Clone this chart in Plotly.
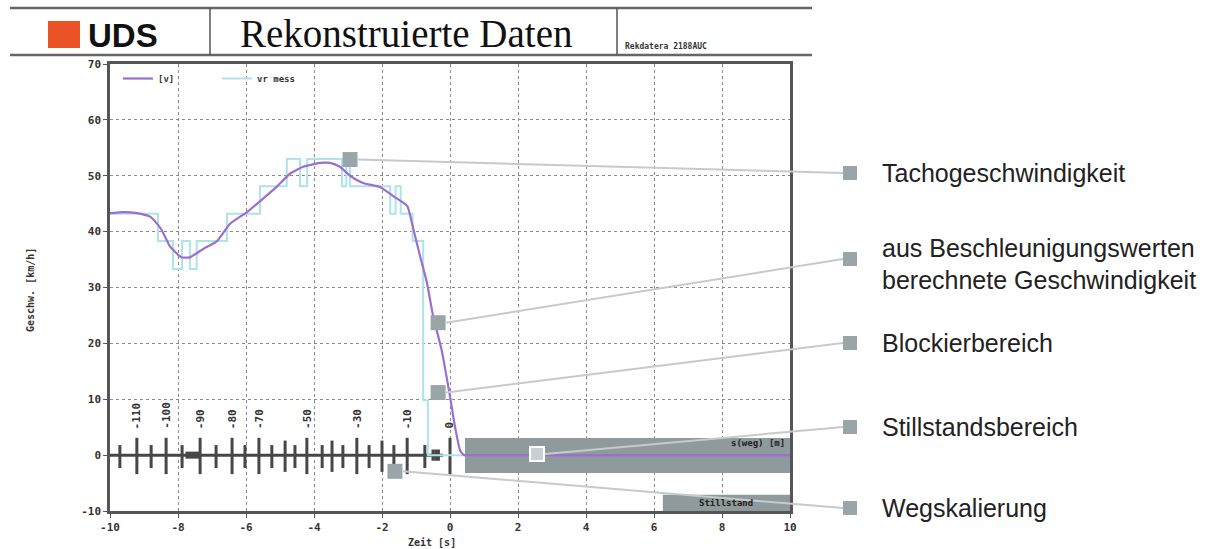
import plotly.graph_objects as go

# ---------------- data ----------------
# reconstructed speed [v] (km/h) over time (s)
v_t = [-10, -9.6, -9.2, -8.8, -8.5, -8.24, -7.9, -7.65, -7.26, -6.85, -6.47, -5.97, -5.5, -5.1,
       -4.7, -4.32, -3.82, -3.53, -3.24, -2.94, -2.56, -2.06, -1.68, -1.26, -1.08, -0.88, -0.68,
       -0.5, -0.25, 0.0, 0.15, 0.3, 0.42, 0.6, 10]
v_v = [43.3, 43.5, 43.3, 42.6, 40.5, 37.4, 35.4, 35.4, 36.9, 38.3, 41.4, 43.5, 45.9, 48.0,
       50.4, 51.6, 52.3, 52.3, 51.6, 50.0, 48.7, 48.0, 46.4, 44.6, 40.5, 35.6, 30.9,
       25.0, 18.9, 10.5, 5.0, 0.8, 0.0, 0.0, 0.0]

# measured tacho speed "vr mess" (step function)
vr_t = [-10, -8.59, -8.15, -7.88, -7.65, -7.45, -6.56, -5.59, -4.80, -4.41, -4.20, -3.18,
        -3.05, -2.94, -1.76, -1.60, -1.45, -1.10, -0.79, -0.65, 0.45]
vr_v = [43.2, 38.3, 33.3, 38.3, 33.3, 38.3, 43.2, 48.1, 53.0, 48.1, 53.0, 48.1,
        53.0, 48.1, 43.2, 48.1, 43.2, 38.3, 9.8, 0.0, 0.0]

# distance scale: distance to standstill (m) and the time it is reached (s)
weg_m = [-115, -110, -105, -100, -95, -90, -85, -80, -75, -70, -65, -60, -55, -50,
         -45, -40, -35, -30, -25, -20, -15, -10, -5, 0]
weg_t = [-9.71, -9.21, -8.79, -8.35, -7.88, -7.35, -6.88, -6.41, -6.03, -5.62, -5.24, -4.85,
         -4.56, -4.21, -3.76, -3.47, -3.15, -2.74, -2.38, -2.0, -1.65, -1.26, -0.74, 0.0]
weg_labels = [-110, -100, -90, -80, -70, -50, -30, -10, 0]

# callout points (time, speed) and texts
call_t = [-2.94, -0.35, -0.35, 2.56, -1.62]
call_v = [52.9, 23.7, 11.2, 0.2, -2.9]
call_text = ["Tachogeschwindigkeit",
             "aus Beschleunigungswerten<br>berechnete Geschwindigkeit",
             "Blockierbereich", "Stillstandsbereich", "Wegskalierung"]

# standstill band and box
band_t = [0.44, 10]
band_v = [-3.2, 3.05]
still_t = [6.26, 10]
still_v = [-10, -7.1]

x_ticks = [-10, -8, -6, -4, -2, 0, 2, 4, 6, 8, 10]
y_ticks = [-10, 0, 10, 20, 30, 40, 50, 60, 70]

# ---------------- layout geometry ----------------
W, H = 1216, 549
L, R, T, B = 110, 426, 64, 38
PW, PH = W - L - R, H - T - B
XR, YR = [-10, 10], [-10, 70]


def pp(px, py):
    return (px - L) / PW, (H - B - py) / PH


def dp(t, v):
    return (t - XR[0]) / (XR[1] - XR[0]), (v - YR[0]) / (YR[1] - YR[0])


MONO = "DejaVu Sans Mono"
GREY_SQ = "#9aa5a8"
LEADER = "#c6cacb"
BAND = "#8e9a9c"
DARK = "#474747"

fig = go.Figure()

# distance scale baseline
fig.add_trace(go.Scatter(x=[XR[0], -0.2], y=[0, 0], mode="lines",
                         line=dict(color=DARK, width=3), showlegend=False, hoverinfo="skip"))
fig.add_trace(go.Scatter(x=[weg_t[4] + 0.1, weg_t[5]], y=[0, 0], mode="lines",
                         line=dict(color=DARK, width=7), showlegend=False, hoverinfo="skip"))

# distance ticks
xs, ys = [], []
for m, t in zip(weg_m, weg_t):
    if m in weg_labels:
        top, bot = 3.1, -3.4
    elif m % 10 == 0:
        top, bot = 2.6, -3.0
    else:
        top, bot = 1.8, -2.3
    xs += [t, t, None]
    ys += [top, bot, None]
for t in [-0.5, -0.42, -0.34]:
    xs += [t, t, None]
    ys += [1.0, -1.0, None]
fig.add_trace(go.Scatter(x=xs, y=ys, mode="lines", line=dict(color=DARK, width=3),
                         showlegend=False, hoverinfo="skip"))

# curves
fig.add_trace(go.Scatter(x=vr_t, y=vr_v, mode="lines", name="vr mess",
                         line=dict(color="#aee3ea", width=2, shape="hv")))
fig.add_trace(go.Scatter(x=v_t, y=v_v, mode="lines", name="[v]",
                         line=dict(color="#9b6fcf", width=2.2, shape="spline", smoothing=0.5)))

# callout markers inside the plot
fig.add_trace(go.Scatter(x=[call_t[i] for i in (0, 1, 2, 4)], y=[call_v[i] for i in (0, 1, 2, 4)],
                         mode="markers", marker=dict(symbol="square", size=15, color=GREY_SQ),
                         showlegend=False, hoverinfo="skip", cliponaxis=False))
fig.add_trace(go.Scatter(x=[call_t[3]], y=[call_v[3]], mode="markers",
                         marker=dict(symbol="square", size=14, color="#c9d0d2",
                                     line=dict(color="white", width=2)),
                         showlegend=False, hoverinfo="skip"))

shapes = []
annotations = []

# standstill band and box
shapes.append(dict(type="rect", xref="x", yref="y", x0=band_t[0], x1=band_t[1],
                   y0=band_v[0], y1=band_v[1], fillcolor=BAND, line=dict(width=0),
                   layer="between"))
shapes.append(dict(type="rect", xref="x", yref="y", x0=still_t[0], x1=still_t[1],
                   y0=still_v[0], y1=still_v[1], fillcolor=BAND, line=dict(width=0),
                   layer="between"))
annotations.append(dict(xref="x", yref="y", x=9.9, y=2.2, text="s(weg) [m]", showarrow=False,
                        xanchor="right", font=dict(family=MONO, size=9, color="#222", weight="bold")))
annotations.append(dict(xref="x", yref="y", x=(still_t[0] + still_t[1]) / 2, y=-8.55,
                        text="Stillstand", showarrow=False,
                        font=dict(family=MONO, size=9, color="#222", weight="bold")))

# distance labels (rotated)
for m, t in zip(weg_m, weg_t):
    if m in weg_labels:
        annotations.append(dict(xref="x", yref="y", x=t, y=4.3, text=str(m), showarrow=False,
                                textangle=-90, yanchor="bottom", xanchor="center",
                                font=dict(family=MONO, size=11, color="#333", weight="bold")))

# callout labels on the right
LBL_FONT = dict(family="Liberation Sans", size=25, color="#222")
label_py = [173, 259, 343, 427, 508]
for i, (t, v) in enumerate(zip(call_t, call_v)):
    x0, y0 = dp(t, v)
    x0 += 8 / PW
    lx, ly = pp(843, label_py[i])
    shapes.append(dict(type="line", xref="paper", yref="paper", x0=x0, y0=y0, x1=lx, y1=ly,
                       line=dict(color=LEADER, width=2), layer="above"))
    sx0, sy0 = pp(843, label_py[i] - 7)
    sx1, sy1 = pp(857, label_py[i] + 7)
    shapes.append(dict(type="rect", xref="paper", yref="paper", x0=sx0, x1=sx1, y0=sy0, y1=sy1,
                       fillcolor=GREY_SQ, line=dict(width=0), layer="above"))
    tx, ty = pp(880, label_py[i])
    if "<br>" in call_text[i]:
        l1, l2 = call_text[i].split("<br>")
        for txt, py in ((l1, 248), (l2, 280)):
            tx2, ty2 = pp(880, py)
            annotations.append(dict(xref="paper", yref="paper", x=tx2, y=ty2, text=txt,
                                    showarrow=False, xanchor="left", yanchor="middle",
                                    font=LBL_FONT))
    else:
        annotations.append(dict(xref="paper", yref="paper", x=tx, y=ty, text=call_text[i],
                                showarrow=False, xanchor="left", yanchor="middle",
                                font=LBL_FONT))

# header
hx0, _ = pp(10, 0)
hx1, _ = pp(812, 0)
_, hyt = pp(0, 8)
_, hyb = pp(0, 55)
for y in (hyt, hyb):
    shapes.append(dict(type="line", xref="paper", yref="paper", x0=hx0, x1=hx1, y0=y, y1=y,
                       line=dict(color="#666", width=2.5)))
for px in (210, 617):
    sx, _ = pp(px, 0)
    shapes.append(dict(type="line", xref="paper", yref="paper", x0=sx, x1=sx, y0=hyb, y1=hyt,
                       line=dict(color="#555", width=1.5)))
ox0, oy0 = pp(48, 48)
ox1, oy1 = pp(80, 21)
shapes.append(dict(type="rect", xref="paper", yref="paper", x0=ox0, x1=ox1, y0=oy0, y1=oy1,
                   fillcolor="#ea5125", line=dict(width=0)))
ux, uy = pp(86, 36)
annotations.append(dict(xref="paper", yref="paper", x=ux, y=uy, text="<b>UDS</b>", showarrow=False,
                        xanchor="left", yanchor="middle",
                        font=dict(family="Liberation Sans", size=33, color="#111")))
rx, ry = pp(406, 33)
annotations.append(dict(xref="paper", yref="paper", x=rx, y=ry, text="Rekonstruierte Daten",
                        showarrow=False, xanchor="center", yanchor="middle",
                        font=dict(family="Liberation Serif", size=39, color="#111")))
kx, ky = pp(623, 46)
annotations.append(dict(xref="paper", yref="paper", x=kx, y=ky, text="Rekdatera 2188AUC",
                        showarrow=False, xanchor="left", yanchor="middle",
                        font=dict(family=MONO, size=8, color="#333", weight="bold")))

# axis titles
ax_, ay_ = pp(432, 542)
annotations.append(dict(xref="paper", yref="paper", x=ax_, y=ay_, text="Zeit [s]", showarrow=False,
                        xanchor="center", yanchor="middle",
                        font=dict(family=MONO, size=10, color="#333", weight="bold")))
bx_, by_ = pp(30, 290)
annotations.append(dict(xref="paper", yref="paper", x=bx_, y=by_, text="Geschw. [km/h]",
                        showarrow=False, textangle=-90, xanchor="center", yanchor="middle",
                        font=dict(family=MONO, size=10, color="#333", weight="bold")))

tickfont = dict(family=MONO, size=11, color="#333", weight="bold")
fig.update_layout(
    width=W, height=H,
    margin=dict(l=L, r=R, t=T, b=B, pad=0),
    paper_bgcolor="white", plot_bgcolor="white",
    shapes=shapes, annotations=annotations,
    legend=dict(orientation="h", x=pp(118, 0)[0], y=1.0, xanchor="left", yanchor="top",
                bgcolor="rgba(0,0,0,0)", entrywidth=54, entrywidthmode="pixels",
                font=dict(family=MONO, size=9, color="#333", weight="bold"),
                traceorder="reversed", itemwidth=30),
    xaxis=dict(range=XR, tickvals=x_ticks, ticktext=[str(v) for v in x_ticks],
               showgrid=True, gridcolor="#8a8a8a", griddash="dot", gridwidth=1,
               showline=True, mirror=True, linecolor="#555", linewidth=2.5,
               ticks="outside", ticklen=4, tickcolor="#555", tickfont=tickfont, zeroline=False),
    yaxis=dict(range=YR, tickvals=y_ticks, ticktext=[str(v) for v in y_ticks],
               showgrid=True, gridcolor="#8a8a8a", griddash="dot", gridwidth=1,
               showline=True, mirror=True, linecolor="#555", linewidth=2.5,
               ticks="outside", ticklen=4, tickcolor="#555", tickfont=tickfont, zeroline=False),
)

fig.write_html("out.html")
